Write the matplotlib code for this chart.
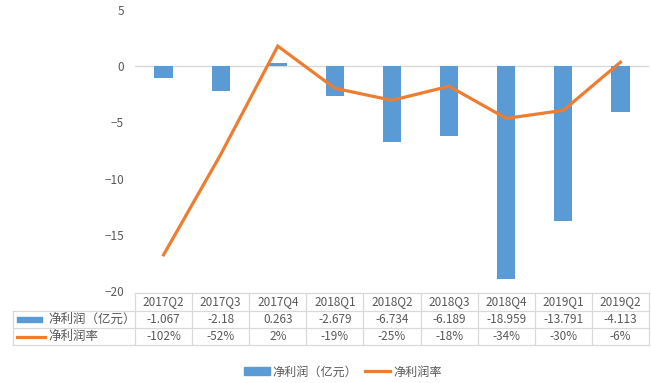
import numpy as np
import matplotlib
matplotlib.use("Agg")
from matplotlib import pyplot as plt
from matplotlib.lines import Line2D
from matplotlib.patches import Rectangle

plt.rcParams['font.family'] = ['Noto Sans CJK SC', 'DejaVu Sans']

quarters = ['2017Q2', '2017Q3', '2017Q4', '2018Q1', '2018Q2', '2018Q3', '2018Q4', '2019Q1', '2019Q2']
profit = [-1.067, -2.18, 0.263, -2.679, -6.734, -6.189, -18.959, -13.791, -4.113]
margin = [-102, -52, 2, -19, -25, -18, -34, -30, -6]
profit_label = '净利润（亿元）'
margin_label = '净利润率'

blue = '#5B9BD5'
orange = '#ED7D31'
grey = '#D9D9D9'
txt = '#595959'

W, H = 651, 383
fig = plt.figure(figsize=(W / 100, H / 100), dpi=100)

# plot area in pixels
left, right, top, bottom = 135, 649, 10, 291
ax = fig.add_axes([left / W, 1 - bottom / H, (right - left) / W, (bottom - top) / H])
x = np.arange(len(quarters))
ax.bar(x, profit, width=0.32, color=blue, zorder=3)
ax.set_xlim(-0.5, len(quarters) - 0.5)
ax.set_ylim(-20, 5)
ax.set_yticks([5, 0, -5, -10, -15, -20])
ax.tick_params(axis='y', length=0, labelsize=8.5, labelcolor=txt, pad=8)
ax.set_xticks([])
for s in ax.spines.values():
    s.set_visible(False)
ax.axhline(0, color=grey, lw=1, zorder=2)

ax2 = ax.twinx()
ax2.plot(x, margin, color=orange, lw=2.3, solid_joinstyle='miter', zorder=4)
ax2.set_ylim(-120, 20)
ax2.axis('off')

# data table drawn underneath in pixel coords
tax = fig.add_axes([0, 0, 1, 1])
tax.set_xlim(0, W)
tax.set_ylim(H, 0)
tax.axis('off')
colw = (right - left) / len(quarters)
rows_y = [293, 311, 328, 345]
lab_left = 13
kw = dict(color=grey, lw=0.9)
# horizontal lines
tax.plot([left, right], [rows_y[0]] * 2, **kw)
for yy in rows_y[1:]:
    tax.plot([lab_left, right], [yy] * 2, **kw)
# vertical lines
for i in range(len(quarters) + 1):
    xx = left + i * colw
    tax.plot([xx, xx], [rows_y[0], rows_y[3]], **kw)
tax.plot([lab_left, lab_left], [rows_y[1], rows_y[3]], **kw)

for i, q in enumerate(quarters):
    cx = left + (i + 0.5) * colw
    tax.text(cx, (rows_y[0] + rows_y[1]) / 2, q, ha='center', va='center', fontsize=8.5, color=txt)
    tax.text(cx, (rows_y[1] + rows_y[2]) / 2, f'{profit[i]:g}', ha='center', va='center', fontsize=8.5, color=txt)
    tax.text(cx, (rows_y[2] + rows_y[3]) / 2, f'{margin[i]}%', ha='center', va='center', fontsize=8.5, color=txt)

ym1 = (rows_y[1] + rows_y[2]) / 2
ym2 = (rows_y[2] + rows_y[3]) / 2
tax.add_patch(Rectangle((17, ym1 - 2.5), 25, 5, color=blue))
tax.plot([17, 45], [ym2, ym2], color=orange, lw=2.3)
tax.text(48, ym1, profit_label, ha='left', va='center', fontsize=9, color=txt)
tax.text(48, ym2, margin_label, ha='left', va='center', fontsize=9, color=txt)

handles = [Rectangle((0, 0), 1, 1, color=blue), Line2D([0], [0], color=orange, lw=2.3)]
fig.legend(handles, [profit_label, margin_label], loc='center', bbox_to_anchor=(0.527, 1 - 372 / H),
           ncol=2, frameon=False, fontsize=8.7, labelcolor=txt, handlelength=2.1,
           handleheight=0.6, handletextpad=0.25, columnspacing=0.6)

fig.savefig('out.png', dpi=100, facecolor='white')
